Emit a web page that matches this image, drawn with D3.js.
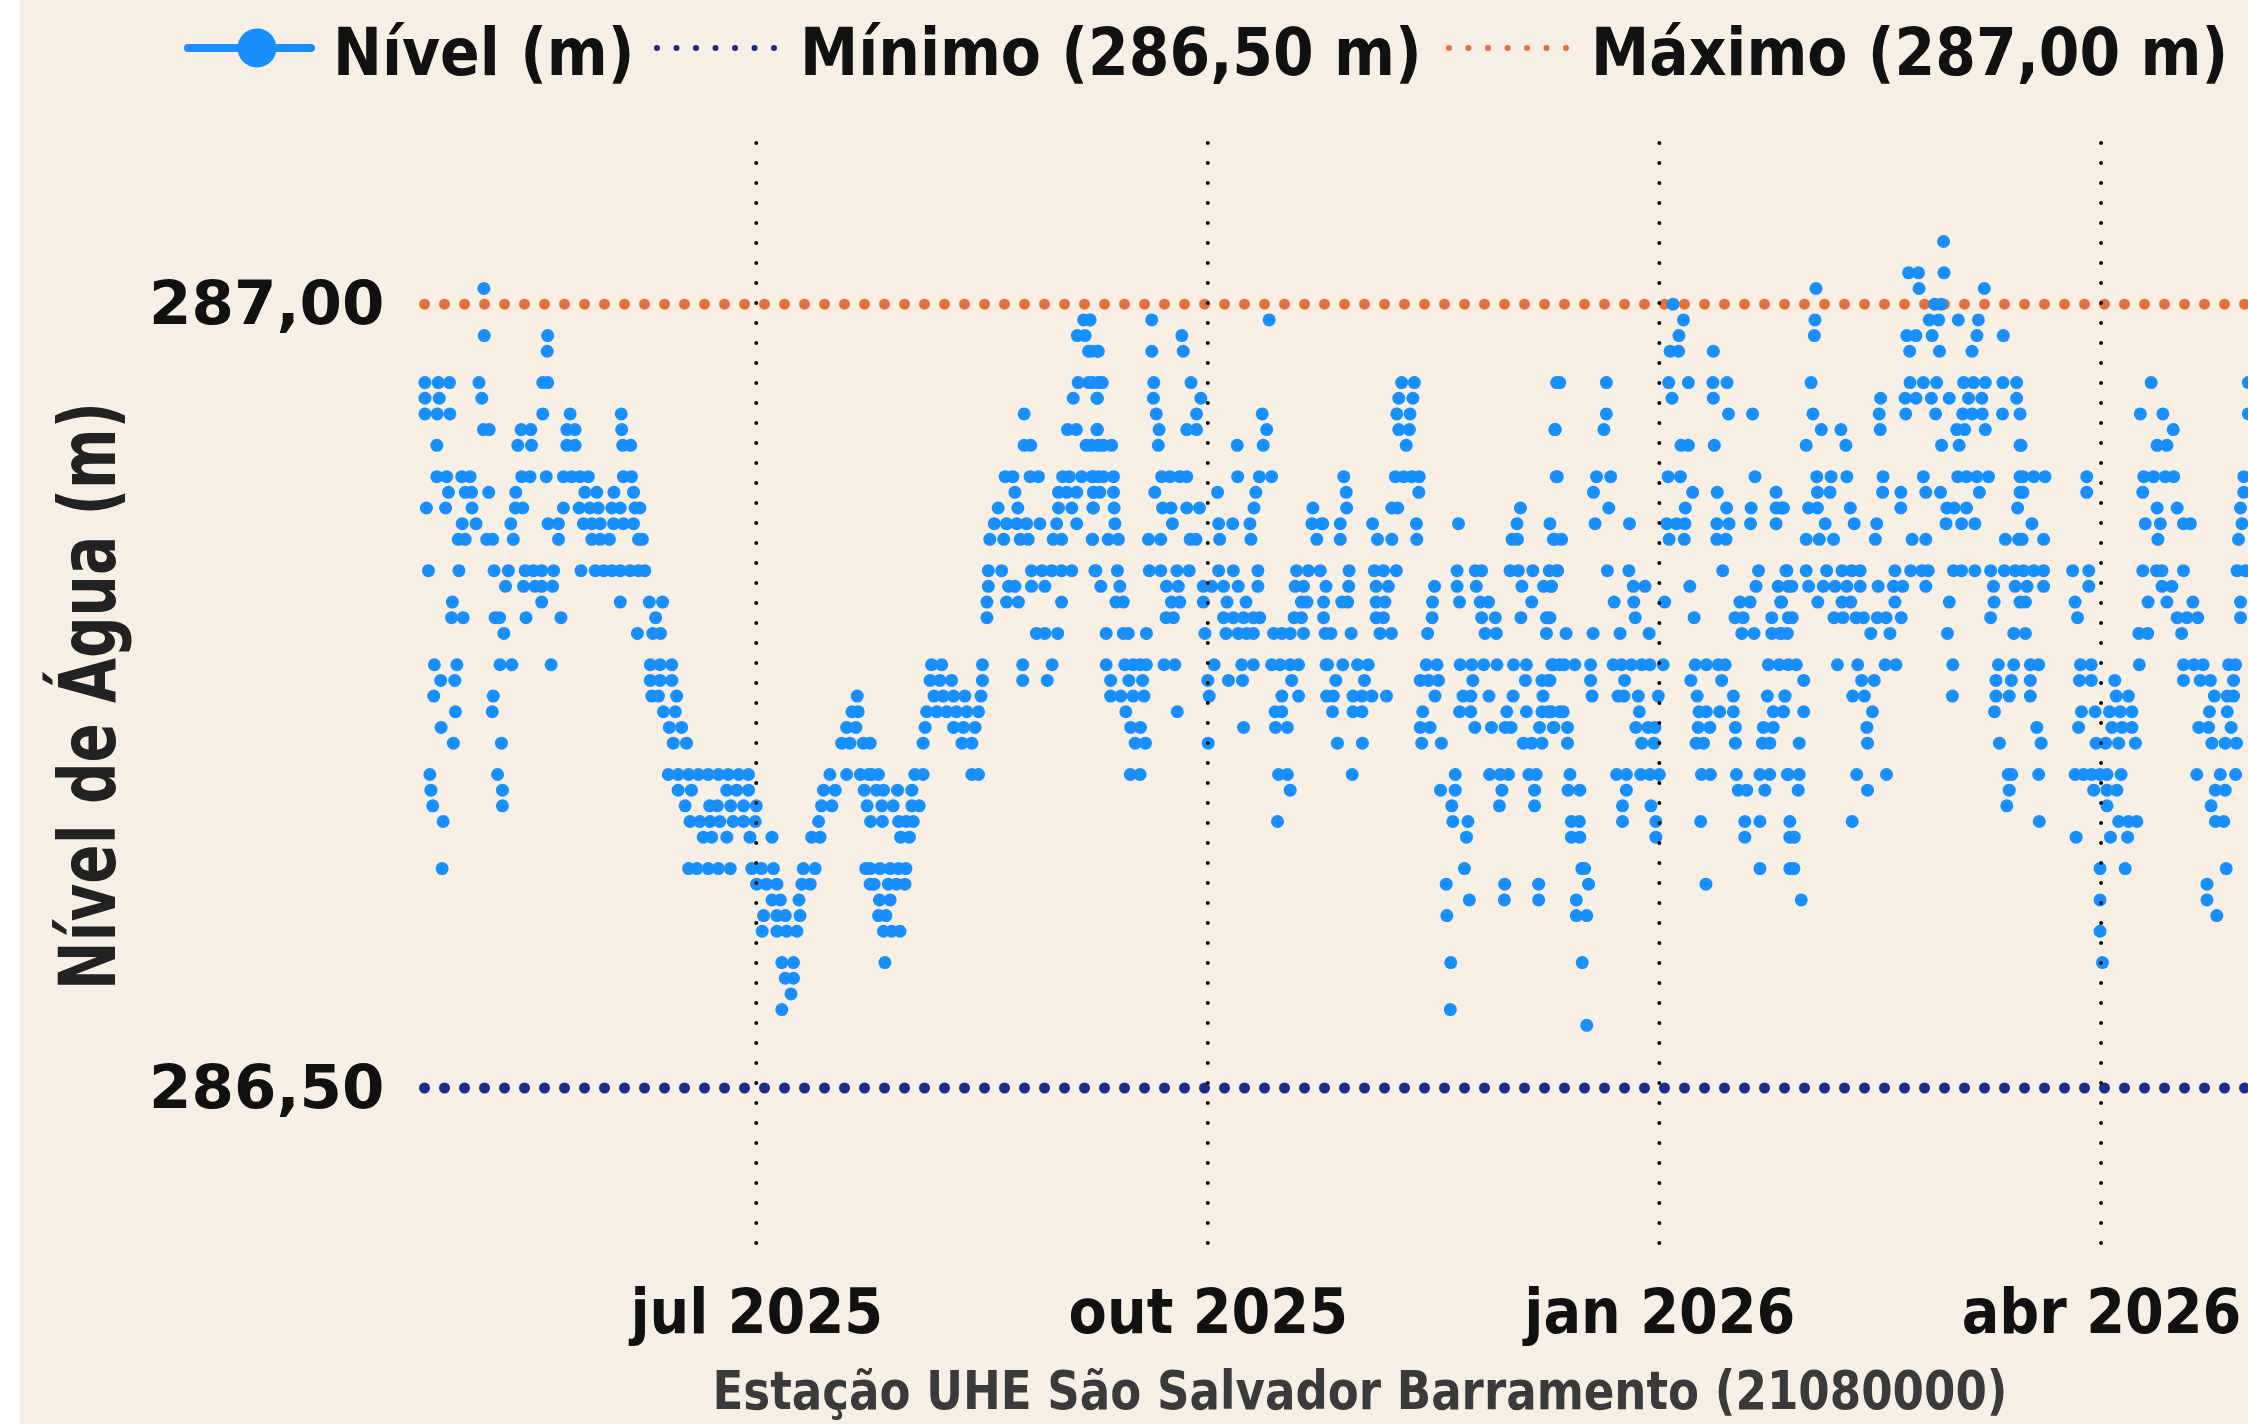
<!DOCTYPE html>
<html>
<head>
<meta charset="utf-8">
<script src="https://cdn.jsdelivr.net/npm/d3@7"></script>
<style>
  html, body { margin: 0; padding: 0; background: #ffffff; }
  svg { display: block; }
  .cond { font-family: 'DejaVu Sans Condensed', 'DejaVu Sans', sans-serif; font-weight: bold; font-stretch: condensed; }
  .larga { font-family: 'DejaVu Sans', sans-serif; font-weight: bold; }
</style>
</head>
<body>
<div id="chart"></div>
<script>
// leituras: [nível (m), [dias desde 24/04/2025]]
const inicio = new Date(2025, 3, 24);
const fim = new Date(2026, 4, 1);

const leiturasAbrJun = [
  [287.01, [12.5]],
  [286.98, [12.6, 25.5]],
  [286.97, [25.4]],
  [286.95, [0.5, 3.2, 5.5, 11.5, 24.5, 25.5]],
  [286.94, [0.5, 3.4, 12.1]],
  [286.93, [0.5, 3.0, 5.6, 24.5, 30.1, 40.5]],
  [286.92, [12.4, 13.6, 20.1, 22.1, 29.4, 31.1, 40.6]],
  [286.91, [2.9, 19.4, 22.2, 29.4, 31.1, 40.8, 42.4]],
  [286.89, [2.9, 4.9, 8.0, 9.7, 20.2, 21.9, 25.2, 28.7, 30.4, 32.1, 33.8, 40.9, 42.6]],
  [286.88, [5.3, 8.7, 10.0, 13.5, 19.0, 33.1, 35.5, 39.0, 43.0]],
  [286.87, [0.8, 4.7, 10.1, 18.9, 20.4, 28.7, 31.9, 34.1, 35.8, 38.6, 40.3, 43.3, 44.3]],
  [286.86, [8.1, 10.9, 18.0, 25.6, 27.7, 32.8, 34.5, 36.2, 38.9, 40.9, 43.0]],
  [286.85, [7.3, 8.7, 13.1, 14.3, 18.5, 27.7, 34.5, 36.2, 38.1, 44.0, 44.8]],
  [286.83, [1.2, 7.4, 14.6, 17.5, 20.9, 22.6, 24.3, 26.7, 32.3, 35.2, 36.9, 38.6, 40.3, 42.3, 44.0, 45.3]],
  [286.82, [16.9, 20.6, 22.9, 24.3, 26.5]],
  [286.81, [6.1, 24.3, 40.3]],
  [286.80, [5.9, 8.3, 14.8, 15.7, 21.1, 28.2]],
  [286.79, [16.6, 43.8]],
  [286.77, [2.4, 7.0, 15.8, 18.2, 26.2]],
  [286.76, [3.7, 6.6]],
  [286.75, [2.3, 14.4]],
  [286.74, [6.7, 14.2]],
  [286.73, [3.8]],
  [286.72, [6.3, 16.1]],
  [286.70, [1.5, 15.3]],
  [286.69, [1.7, 16.3]],
  [286.68, [2.1, 16.3]],
  [286.67, [4.2]],
  [286.64, [4.0]]
];

const leiturasJunJul = [
  [286.81, [46.2, 48.9]],
  [286.80, [47.5]],
  [286.79, [46.9, 48.5]],
  [286.77, [46.4, 48.4, 50.8]],
  [286.76, [46.4, 48.4, 50.8]],
  [286.75, [46.7, 48.1, 51.8, 88.6]],
  [286.74, [49.1, 51.5, 87.5, 88.8]],
  [286.73, [50.3, 52.8, 86.4, 88.3]],
  [286.72, [51.1, 53.8, 85.4, 87.1, 89.8]],
  [286.70, [50.1, 52.1, 54.2, 56.2, 58.2, 60.3, 62.3, 64.4, 66.4, 83.0, 86.4, 89.2, 90.9]],
  [286.69, [52.1, 54.8, 62.0, 64.0, 66.4, 81.7, 84.1, 90.0]],
  [286.68, [53.5, 58.5, 60.1, 62.8, 65.4, 68.0, 81.3, 83.4, 90.6]],
  [286.67, [54.5, 56.5, 58.6, 60.6, 63.3, 65.4, 67.8, 80.7]],
  [286.66, [57.2, 58.9, 62.0, 66.7, 71.2, 79.3, 81.0]],
  [286.64, [54.2, 55.9, 58.2, 60.3, 62.7, 67.1, 69.1, 71.5, 77.6, 80.0, 90.3]],
  [286.63, [68.1, 70.1, 72.2, 77.3, 79.0, 91.2]],
  [286.62, [71.2, 72.9, 76.7]],
  [286.61, [69.5, 72.2, 73.9, 76.9]],
  [286.60, [69.2, 72.2, 74.2, 76.3]],
  [286.58, [73.2, 75.6]],
  [286.57, [73.9, 75.6]],
  [286.56, [75.1]],
  [286.55, [73.2]]
];

const leiturasJulSet = [
  [286.99, [134.7, 136.0]],
  [286.98, [133.4, 135.0]],
  [286.97, [135.7, 137.5]],
  [286.95, [133.6, 135.7, 137.7]],
  [286.94, [132.6, 137.4]],
  [286.93, [122.6]],
  [286.92, [131.4, 133.2, 137.4]],
  [286.91, [122.6, 123.9, 135.2, 137.7]],
  [286.89, [118.7, 120.3, 123.8, 125.5, 130.4, 131.8, 134.3, 136.4, 137.7]],
  [286.88, [120.7, 129.6, 131.3, 133.3, 136.7]],
  [286.87, [117.3, 121.3, 129.6, 132.3, 136.6]],
  [286.86, [116.5, 119.0, 121.1, 123.1, 125.8, 129.2, 133.3]],
  [286.85, [115.6, 118.4, 121.8, 123.4, 128.5, 130.2, 136.5]],
  [286.83, [115.3, 118.0, 124.1, 126.2, 128.2, 130.2, 132.3, 137.0]],
  [286.82, [115.3, 119.4, 120.7, 124.1, 126.8]],
  [286.81, [115.0, 119.0, 121.4, 130.2]],
  [286.80, [115.0]],
  [286.79, [125.1, 126.8, 129.4]],
  [286.77, [103.7, 105.8, 114.1, 122.3, 128.3]],
  [286.76, [103.4, 105.4, 107.8, 114.1, 122.3, 127.3]],
  [286.75, [104.2, 106.1, 108.2, 110.5, 113.8]],
  [286.74, [102.7, 104.8, 106.8, 108.8, 110.9, 113.3]],
  [286.73, [102.4, 108.2, 110.2, 112.6]],
  [286.72, [91.2, 102.0, 109.9, 111.9]],
  [286.70, [91.5, 92.9, 100.3, 102.0, 111.9, 113.3]],
  [286.69, [92.5, 93.9, 96.8, 99.7]],
  [286.68, [93.6, 95.9, 99.7, 101.2]],
  [286.67, [91.3, 93.7, 97.0, 98.6, 100.0]],
  [286.66, [97.4, 99.2]],
  [286.64, [91.2, 93.2, 95.3, 97.0, 98.5]],
  [286.63, [92.0, 94.9, 96.6, 98.3]],
  [286.62, [93.1, 95.3]],
  [286.61, [92.9, 94.4]],
  [286.60, [93.9, 95.6, 97.3]],
  [286.58, [94.2]]
];

const leiturasSetOut = [
  [286.99, [136.0, 148.6, 172.5]],
  [286.98, [154.7]],
  [286.97, [136.3, 137.7, 148.6, 155.0]],
  [286.95, [136.5, 138.5, 149.0, 156.6]],
  [286.94, [137.5, 148.9, 158.6]],
  [286.93, [149.5, 157.7, 171.1]],
  [286.92, [137.5, 150.1, 155.7, 157.7, 172.0]],
  [286.91, [136.3, 138.7, 140.4, 149.9, 166.0, 171.3]],
  [286.89, [136.7, 138.7, 140.8, 150.6, 152.3, 154.3, 155.7, 166.1, 170.5, 173.0]],
  [286.88, [136.7, 138.0, 140.8, 149.2, 162.0, 169.8]],
  [286.87, [136.7, 140.9, 150.8, 152.5, 155.7, 158.3, 169.4, 181.4]],
  [286.86, [141.1, 152.8, 162.2, 165.1, 168.6, 181.2, 183.2]],
  [286.85, [136.5, 139.7, 141.8, 147.9, 150.4, 156.4, 157.6, 162.4, 168.8, 182.2]],
  [286.83, [137.2, 141.6, 148.1, 150.4, 153.7, 156.2, 162.2, 165.2, 170.2, 178.1, 180.5, 182.9]],
  [286.82, [138.2, 142.1, 151.6, 154.0, 159.1, 160.8, 163.2, 166.2, 170.2, 177.8, 179.5, 184.1]],
  [286.81, [141.3, 142.8, 152.6, 154.3, 159.1, 163.9, 167.8, 179.1, 180.2, 183.6]],
  [286.80, [151.5, 153.0, 163.2, 165.2, 167.3, 169.3, 170.6, 177.6, 179.1, 183.6]],
  [286.79, [139.3, 142.8, 143.8, 147.5, 159.4, 163.7, 166.2, 167.9, 169.3, 173.4, 175.1, 176.8, 179.5, 183.9]],
  [286.77, [139.3, 143.1, 144.8, 146.2, 147.5, 151.1, 153.3, 161.3, 166.9, 169.3, 173.0, 174.7, 176.8, 178.5, 184.1]],
  [286.76, [140.2, 143.9, 146.7, 160.0, 164.2, 167.1, 177.1]],
  [286.75, [140.2, 142.3, 144.8, 147.0, 160.3, 175.1, 178.5, 184.2]],
  [286.74, [143.3, 153.8, 173.7, 175.1]],
  [286.73, [144.3, 146.3, 167.3, 173.8, 176.2]],
  [286.72, [145.2, 147.3, 160.1]],
  [286.70, [144.2, 146.2, 174.4, 176.2]],
  [286.69, [176.8]],
  [286.67, [174.2]]
];

const leiturasOutDez = [
  [286.95, [199.5, 202.1, 231.1]],
  [286.94, [198.9, 201.8]],
  [286.93, [198.5, 201.2]],
  [286.92, [198.9, 201.1, 230.8]],
  [286.91, [200.4]],
  [286.89, [187.7, 198.2, 199.9, 201.6, 203.1, 231.0]],
  [286.88, [188.2, 203.0]],
  [286.87, [188.3, 197.5, 198.7, 223.7]],
  [286.86, [183.4, 187.0, 193.6, 202.5, 211.1, 223.0]],
  [286.85, [187.0, 194.6, 197.5, 202.6, 222.0, 223.1, 230.7]],
  [286.83, [188.8, 193.9, 195.8, 198.4, 210.8, 214.5, 215.8, 221.6, 223.3, 226.2, 229.6, 231.3]],
  [286.82, [188.7, 194.3, 196.8, 206.2, 210.8, 214.7, 224.0, 228.4, 230.0]],
  [286.81, [187.3, 188.5, 194.3, 196.1, 205.8, 211.3, 215.5, 217.2, 226.0]],
  [286.80, [194.3, 195.8, 205.7, 215.8, 218.6, 223.8, 229.0]],
  [286.79, [185.1, 189.2, 195.1, 197.4, 204.8, 216.5, 218.8, 229.0]],
  [286.77, [184.4, 187.5, 190.5, 192.7, 204.5, 206.7, 211.4, 213.8, 216.2, 218.9, 222.3, 224.9, 230.1, 231.7]],
  [286.76, [186.1, 191.9, 203.3, 205.0, 207.0, 214.0, 224.7, 228.1, 229.4]],
  [286.75, [185.6, 189.6, 191.4, 193.4, 196.4, 206.3, 212.0, 213.6, 217.3, 222.2, 228.3]],
  [286.74, [185.4, 189.6, 191.4, 203.8, 211.3, 213.6, 220.9, 224.9, 228.1, 229.4, 231.7]],
  [286.73, [203.3, 205.3, 214.4, 217.8, 220.6, 221.8, 227.6, 230.5]],
  [286.72, [186.4, 191.5, 203.6, 207.6, 224.3, 226.0, 228.1]],
  [286.70, [189.4, 210.4, 217.4, 219.6, 221.3, 225.4, 226.9]],
  [286.69, [207.4, 210.4, 219.9, 226.6]],
  [286.68, [209.7, 219.4, 226.6]],
  [286.67, [209.9, 213.0]],
  [286.66, [212.7]],
  [286.64, [212.3]],
  [286.63, [208.6, 220.5, 227.4]],
  [286.62, [213.3, 220.4, 227.4]],
  [286.61, [208.7]],
  [286.58, [209.5]],
  [286.55, [209.4]]
];

const leiturasDezJan = [
  [287.00, [254.8]],
  [286.99, [256.9]],
  [286.98, [256.0]],
  [286.97, [254.2, 255.9, 263.0]],
  [286.95, [231.7, 241.2, 253.9, 257.9, 262.9, 265.8]],
  [286.94, [254.6, 263.0]],
  [286.93, [241.2, 266.1, 271.0]],
  [286.92, [230.7, 240.7]],
  [286.91, [256.4, 257.9, 263.2]],
  [286.89, [231.2, 239.2, 242.1, 253.8, 256.3, 271.5]],
  [286.88, [238.6, 258.8, 263.8, 275.8]],
  [286.87, [241.7, 257.3, 265.7, 270.7, 275.8, 277.3]],
  [286.86, [229.7, 238.9, 245.9, 253.5, 255.5, 257.2, 263.7, 266.2, 270.6, 275.8]],
  [286.85, [230.4, 232.1, 254.0, 257.1, 263.7, 265.6]],
  [286.83, [231.1, 241.4, 245.8, 264.9, 272.2, 277.8]],
  [286.82, [230.0, 246.7, 249.1, 258.2, 271.7, 276.2, 278.3]],
  [286.81, [242.8, 246.8, 253.1, 268.4, 270.5, 276.7]],
  [286.80, [229.7, 247.1, 259.1, 267.4, 269.1, 274.9, 278.3]],
  [286.79, [233.0, 238.5, 244.0, 249.9, 268.8, 271.3, 274.9, 276.6, 278.1]],
  [286.77, [230.4, 232.6, 234.8, 238.0, 242.6, 244.3, 246.3, 248.4, 250.1, 252.8, 259.3, 261.6, 264.0, 265.4, 274.2, 276.4, 278.3]],
  [286.76, [229.7, 238.0, 244.9, 258.4, 264.7]],
  [286.75, [238.3, 243.6, 244.8, 247.7, 251.8, 259.7, 267.1, 274.0, 277.6]],
  [286.74, [230.0, 232.4, 247.9, 260.1, 261.6, 264.3, 267.1, 275.2, 277.3]],
  [286.73, [230.4, 233.3, 247.2, 249.7, 251.1, 259.9, 262.3, 267.5, 273.2, 275.2]],
  [286.72, [233.3, 248.4, 250.9, 259.5, 261.0, 267.5, 273.0, 274.5]],
  [286.70, [233.8, 243.3, 245.3, 248.2, 250.1, 252.0, 260.6, 262.4, 267.7, 272.5, 274.5, 278.1]],
  [286.69, [233.4, 235.8, 245.3, 268.1, 269.8, 273.5]],
  [286.68, [244.5, 250.3]],
  [286.67, [234.1, 235.7, 244.5, 251.3, 260.4, 269.4, 272.5, 278.6]],
  [286.66, [234.1, 235.8, 251.3, 269.4, 278.6]],
  [286.64, [236.2, 236.8, 272.5, 278.6]],
  [286.63, [237.6, 261.5]],
  [286.62, [235.1]],
  [286.61, [235.1, 237.2]],
  [286.58, [236.3]],
  [286.54, [237.2]]
];

const leiturasJanMar = [
  [287.04, [309.9]],
  [287.02, [302.8, 304.8, 310.0]],
  [287.01, [283.9, 304.9, 318.2]],
  [287.00, [308.1, 309.4]],
  [286.99, [283.7, 307.0, 308.9, 312.9, 317.0]],
  [286.98, [283.6, 302.4, 304.3, 307.6, 316.7, 322.1]],
  [286.97, [303.0, 309.1, 315.7]],
  [286.95, [282.9, 303.1, 305.8, 308.5, 314.0, 316.0, 318.4, 322.0, 324.8]],
  [286.94, [297.1, 302.1, 304.3, 307.4, 311.1, 315.0, 317.7, 324.8]],
  [286.93, [283.3, 296.8, 302.2, 308.3, 313.8, 315.7, 317.8, 321.9, 325.5]],
  [286.92, [285.0, 289.0, 297.0, 312.6, 314.2, 318.4]],
  [286.91, [281.9, 290.0, 309.5, 313.1, 325.5]],
  [286.89, [284.1, 287.0, 290.2, 297.6, 305.8, 312.8, 314.6, 316.7, 319.1, 325.5]],
  [286.88, [284.2, 286.8, 297.5, 301.2, 306.3, 309.3, 317.2, 325.5]],
  [286.87, [276.9, 282.4, 284.2, 290.9, 301.2, 310.6, 312.1, 314.6, 325.0]],
  [286.86, [285.8, 291.7, 296.3, 310.4, 313.6, 316.3]],
  [286.85, [281.9, 284.6, 287.5, 296.0, 303.5, 306.3, 322.5, 325.2]],
  [286.83, [278.0, 281.9, 286.1, 289.2, 291.2, 292.9, 300.0, 303.2, 305.5, 306.8, 311.9, 313.6, 316.3, 319.5, 322.3, 324.5]],
  [286.82, [279.0, 282.4, 285.4, 287.8, 290.2, 292.9, 296.6, 299.7, 301.6, 306.3, 320.1, 324.5]],
  [286.81, [276.9, 284.3, 289.2, 291.0, 300.0, 311.1, 320.2, 325.5]],
  [286.80, [279.1, 287.6, 289.4, 292.1, 293.6, 296.4, 298.2, 301.3, 319.5]],
  [286.79, [276.9, 295.1, 299.0, 310.7, 324.2]],
  [286.77, [279.9, 288.3, 292.4, 298.0, 300.2, 311.8, 321.1, 324.2]],
  [286.76, [281.4, 293.2, 295.8, 320.6, 323.7]],
  [286.75, [277.6, 291.4, 293.8, 311.7, 320.6, 323.3]],
  [286.74, [277.3, 281.4, 295.4, 320.3]],
  [286.73, [294.3]],
  [286.72, [280.5, 294.4, 321.3]],
  [286.70, [278.3, 280.5, 292.2, 298.3, 323.1]],
  [286.69, [280.3, 294.4, 323.3]],
  [286.68, [322.8]],
  [286.67, [291.3]],
  [286.66, [279.5]],
  [286.64, [279.4]],
  [286.62, [280.9]]
];

const leiturasMarAbr = [
  [286.95, [352.2, 372.0]],
  [286.93, [350.0, 354.6, 372.0]],
  [286.92, [356.7]],
  [286.91, [325.7, 353.4, 355.4]],
  [286.89, [326.1, 328.3, 330.6, 339.1, 350.7, 352.7, 355.1, 356.8, 371.1]],
  [286.88, [326.1, 339.1, 350.5, 371.1]],
  [286.87, [353.4, 357.5, 370.4]],
  [286.86, [327.9, 351.0, 354.1, 358.8, 360.2, 370.7]],
  [286.85, [325.9, 330.3, 353.6, 370.0]],
  [286.83, [326.2, 328.3, 330.3, 336.2, 339.5, 350.5, 353.3, 354.4, 358.8, 369.7, 371.4]],
  [286.82, [326.9, 330.3, 339.5, 354.4, 356.4]],
  [286.81, [326.6, 336.7, 351.6, 355.4, 360.7, 370.4]],
  [286.80, [337.2, 357.5, 359.5, 361.7, 370.4]],
  [286.79, [326.6, 349.7, 351.5, 358.4]],
  [286.77, [327.6, 329.3, 337.8, 340.0, 349.8, 358.8, 360.9, 362.8, 368.0, 369.4]],
  [286.76, [327.6, 337.6, 340.0, 344.8, 358.8, 362.2, 364.3, 369.0]],
  [286.75, [327.6, 345.1, 347.6, 365.1, 367.7, 369.0]],
  [286.74, [338.0, 340.8, 343.7, 345.9, 348.3, 364.1, 367.7]],
  [286.73, [328.9, 337.4, 344.2, 346.3, 348.3, 361.9, 363.9, 368.5]],
  [286.72, [329.8, 341.0, 342.9, 345.6, 349.0, 364.6, 367.3, 369.6]],
  [286.70, [323.8, 329.3, 336.7, 338.4, 340.1, 341.8, 343.2, 346.1, 361.5, 366.3, 369.4]],
  [286.69, [340.5, 343.2, 345.2, 365.3, 367.3]],
  [286.68, [343.2, 364.4]],
  [286.67, [329.4, 345.6, 347.6, 349.3, 365.3, 367.0]],
  [286.66, [336.9, 343.9, 347.4]],
  [286.64, [341.8, 346.9, 367.5]],
  [286.63, [363.6]],
  [286.62, [341.8, 363.6]],
  [286.61, [365.6]],
  [286.60, [341.8]],
  [286.58, [342.3]]
];

const nivelMinimo = 286.50;
const nivelMaximo = 287.00;
const ticksY = [286.50, 287.00];
const ticksX = [new Date(2025, 6, 1), new Date(2025, 9, 1), new Date(2026, 0, 1), new Date(2026, 3, 1)];
const legenda = ['Nível (m)', 'Mínimo (286,50 m)', 'Máximo (287,00 m)'];
const titulo = 'Estação UHE São Salvador Barramento (21080000)';
const tituloY = 'Nível de Água (m)';

const cores = { nivel: '#178fff', minimo: '#1c2a8e', maximo: '#e6703b', fundo: '#f7efe4' };

const W = 2248, H = 1424;
const plot = { left: 422.5, right: 2248.3, top: 143, bottom: 1252 };

const pontos = [];
[leiturasAbrJun, leiturasJunJul, leiturasJulSet, leiturasSetOut,
 leiturasOutDez, leiturasDezJan, leiturasJanMar, leiturasMarAbr].forEach(function (trecho) {
  trecho.forEach(function (linha) {
    linha[1].forEach(function (dia) {
      pontos.push({ data: d3.timeHour.offset(inicio, Math.round(dia * 24)), nivel: linha[0] });
    });
  });
});

const x = d3.scaleTime().domain([inicio, fim]).range([plot.left, plot.right]);
const y = d3.scaleLinear().domain([nivelMinimo, nivelMaximo]).range([1088, 304.2]);

const ptBR = d3.formatLocale({ decimal: ',', thousands: '.', grouping: [3], currency: ['R$', ''] });
const tempoBR = d3.timeFormatLocale({
  dateTime: '%d/%m/%Y %H:%M', date: '%d/%m/%Y', time: '%H:%M:%S', periods: ['AM', 'PM'],
  days: ['domingo', 'segunda', 'terça', 'quarta', 'quinta', 'sexta', 'sábado'],
  shortDays: ['dom', 'seg', 'ter', 'qua', 'qui', 'sex', 'sáb'],
  months: ['janeiro', 'fevereiro', 'março', 'abril', 'maio', 'junho', 'julho', 'agosto', 'setembro', 'outubro', 'novembro', 'dezembro'],
  shortMonths: ['jan', 'fev', 'mar', 'abr', 'mai', 'jun', 'jul', 'ago', 'set', 'out', 'nov', 'dez']
});

const svg = d3.select('#chart').append('svg').attr('width', W).attr('height', H);

svg.append('rect').attr('x', 20).attr('y', 0).attr('width', W - 20).attr('height', H).attr('fill', cores.fundo);

// linhas de referência
svg.append('line')
  .attr('x1', plot.left + 2).attr('x2', W + 20)
  .attr('y1', y(nivelMaximo)).attr('y2', y(nivelMaximo))
  .attr('stroke', cores.maximo).attr('stroke-width', 11)
  .attr('stroke-linecap', 'round').attr('stroke-dasharray', '0 20');
svg.append('line')
  .attr('x1', plot.left + 2).attr('x2', W + 20)
  .attr('y1', y(nivelMinimo)).attr('y2', y(nivelMinimo))
  .attr('stroke', cores.minimo).attr('stroke-width', 11)
  .attr('stroke-linecap', 'round').attr('stroke-dasharray', '0 20');

// pontos
svg.append('g').selectAll('circle')
  .data(pontos)
  .enter().append('circle')
  .attr('cx', function (d) { return x(d.data); })
  .attr('cy', function (d) { return y(d.nivel); })
  .attr('r', 6.5)
  .attr('fill', cores.nivel);

// grade vertical pontilhada
svg.append('g').selectAll('line')
  .data(ticksX)
  .enter().append('line')
  .attr('x1', function (d) { return x(d); }).attr('x2', function (d) { return x(d); })
  .attr('y1', plot.top).attr('y2', plot.bottom)
  .attr('stroke', '#111').attr('stroke-width', 4)
  .attr('stroke-linecap', 'round').attr('stroke-dasharray', '0 20');

// eixo x
const eixoX = svg.append('g')
  .attr('transform', 'translate(0,' + plot.bottom + ')')
  .call(d3.axisBottom(x).tickValues(ticksX).tickSize(0).tickPadding(37)
    .tickFormat(tempoBR.format('%b %Y')));
eixoX.select('.domain').remove();
eixoX.selectAll('text')
  .attr('class', 'cond')
  .style('font-size', '62px')
  .attr('fill', '#111');

// eixo y
const eixoY = svg.append('g')
  .attr('transform', 'translate(' + plot.left + ',0)')
  .call(d3.axisLeft(y).tickValues(ticksY).tickSize(0).tickPadding(38)
    .tickFormat(ptBR.format('.2f')));
eixoY.select('.domain').remove();
eixoY.selectAll('text')
  .attr('class', 'larga')
  .style('font-size', '61px')
  .attr('fill', '#111');

// títulos
svg.append('text')
  .attr('class', 'cond')
  .attr('transform', 'translate(115,696) rotate(-90)')
  .attr('text-anchor', 'middle')
  .attr('textLength', 588).attr('lengthAdjust', 'spacingAndGlyphs')
  .style('font-size', '78px')
  .attr('fill', '#222')
  .text(tituloY);

svg.append('text')
  .attr('class', 'cond')
  .attr('x', 1360).attr('y', 1409)
  .attr('text-anchor', 'middle')
  .attr('textLength', 1295).attr('lengthAdjust', 'spacingAndGlyphs')
  .style('font-size', '54px')
  .attr('fill', '#3a3a3a')
  .text(titulo);

// legenda
const leg = svg.append('g');
leg.append('line').attr('x1', 188).attr('x2', 311).attr('y1', 48).attr('y2', 48)
  .attr('stroke', cores.nivel).attr('stroke-width', 8).attr('stroke-linecap', 'round');
leg.append('circle').attr('cx', 257).attr('cy', 48).attr('r', 19.5).attr('fill', cores.nivel);
leg.append('line').attr('x1', 657).attr('x2', 778).attr('y1', 48).attr('y2', 48)
  .attr('stroke', cores.minimo).attr('stroke-width', 6)
  .attr('stroke-linecap', 'round').attr('stroke-dasharray', '0 19.5');
leg.append('line').attr('x1', 1449).attr('x2', 1570).attr('y1', 48).attr('y2', 48)
  .attr('stroke', cores.maximo).attr('stroke-width', 6)
  .attr('stroke-linecap', 'round').attr('stroke-dasharray', '0 19.5');

const posLegenda = [333, 800, 1591];
leg.selectAll('text.item')
  .data(legenda)
  .enter().append('text')
  .attr('class', 'cond item')
  .attr('x', function (d, i) { return posLegenda[i]; })
  .attr('y', 75)
  .style('font-size', '65px')
  .attr('fill', '#111')
  .text(function (d) { return d; });
</script>
</body>
</html>
